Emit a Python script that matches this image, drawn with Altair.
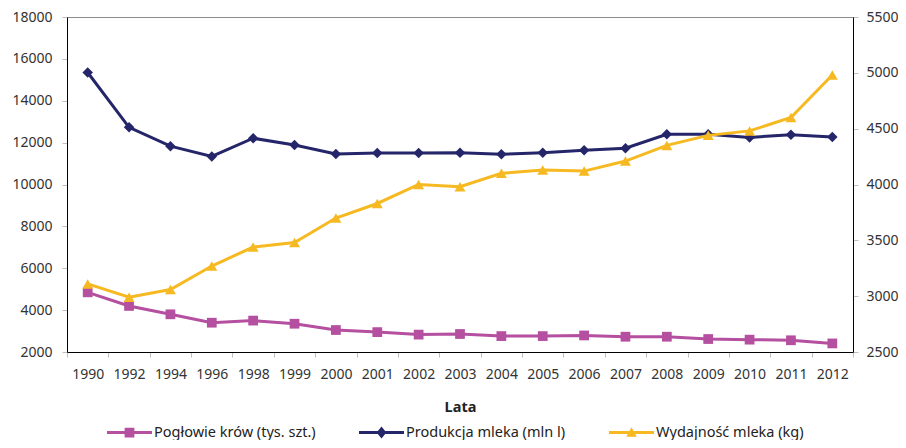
import altair as alt
import pandas as pd

years = ['1990', '1992', '1994', '1996', '1998', '1999', '2000', '2001', '2002', '2003',
         '2004', '2005', '2006', '2007', '2008', '2009', '2010', '2011', '2012']
poglowie = [4850, 4200, 3800, 3400, 3500, 3350, 3050, 2950, 2830, 2860,
            2760, 2760, 2790, 2730, 2730, 2620, 2590, 2560, 2410]
produkcja = [15350, 12730, 11830, 11340, 12210, 11890, 11460, 11510, 11500, 11520,
             11440, 11520, 11640, 11730, 12400, 12400, 12250, 12380, 12270]
wydajnosc = [3110, 2990, 3060, 3270, 3440, 3480, 3700, 3830, 4000, 3980,
             4100, 4130, 4120, 4210, 4350, 4440, 4480, 4600, 4980]

s1 = 'Pogłowie krów (tys. szt.)'
s2 = 'Produkcja mleka (mln l)'
s3 = 'Wydajność mleka (kg)'
series = [s1, s2, s3]
colors = ['#B54FA0', '#25256A', '#F6B921']
point_shapes = ['square', 'diamond', 'triangle-up']
point_sizes = [95, 110, 120]

# legend symbols: line + marker (unit coordinates)
line_path = 'M-3,-0.2L3,-0.2L3,0.2L-3,0.2Z'
legend_paths = [
    line_path + 'M-0.65,-0.65L0.65,-0.65L0.65,0.65L-0.65,0.65Z',
    line_path + 'M0,-0.8L0.65,0L0,0.8L-0.65,0Z',
    line_path + 'M0,-0.7L0.7,0.55L-0.7,0.55Z',
]

rows = []
for name, vals in zip(series, [poglowie, produkcja, wydajnosc]):
    for yr, v in zip(years, vals):
        rows.append({'rok': yr, 'seria': name, 'wartosc': v})
df = pd.DataFrame(rows)

FONT = 'Noto Sans'
FS = 14.5

x_enc = alt.X(
    'rok:O', bandPosition=0.5,
    scale=alt.Scale(type='band', domain=years, paddingInner=0, paddingOuter=0),
    axis=alt.Axis(title='Lata', labelAngle=0, tickBand='extent', labelPadding=10,
                  titlePadding=19, titleFontWeight='bold'),
)

y_left = alt.Y('wartosc:Q',
               scale=alt.Scale(domain=[2000, 18000], nice=False, zero=False),
               axis=alt.Axis(orient='left', values=list(range(2000, 18001, 2000)), title=None,
                             grid=False, format='d', labelPadding=10))
y_right = alt.Y('wartosc:Q',
                scale=alt.Scale(domain=[2500, 5500], nice=False, zero=False),
                axis=alt.Axis(orient='right', values=list(range(2500, 5501, 500)), title=None,
                              grid=False, format='d', labelPadding=8))

base = alt.Chart(df)

left_layers = []
for i, name in enumerate(series[:2]):
    sub = base.transform_filter(alt.datum.seria == name)
    left_layers.append(sub.mark_line(strokeWidth=3, color=colors[i]).encode(x=x_enc, y=y_left))
    left_layers.append(sub.mark_point(shape=point_shapes[i], filled=True, size=point_sizes[i],
                                      opacity=1, color=colors[i])
                       .encode(x=x_enc, y=y_left))

leg = alt.Legend(orient='none', legendX=55, legendY=408, direction='horizontal', columns=3,
                 title=None, padding=0, symbolSize=225, symbolOpacity=1, symbolStrokeWidth=0,
                 labelOffset=17, columnPadding=43, labelFont=FONT, labelFontSize=FS,
                 labelColor='#222222', labelLimit=400)
# legend-only layer (no marks drawn: the filter keeps no rows; the legend comes from the scales)
legend_layer = base.transform_filter(alt.datum.wartosc < 0).mark_point(filled=True).encode(
    x=x_enc, y=y_left,
    color=alt.Color('seria:N', scale=alt.Scale(domain=series, range=colors), legend=leg),
    shape=alt.Shape('seria:N', scale=alt.Scale(domain=series, range=legend_paths), legend=leg),
)
left_layers.append(legend_layer)

left = alt.layer(*left_layers)

sub3 = base.transform_filter(alt.datum.seria == s3)
right = alt.layer(
    sub3.mark_line(strokeWidth=3, color=colors[2]).encode(x=x_enc, y=y_right),
    sub3.mark_point(shape=point_shapes[2], filled=True, size=point_sizes[2], opacity=1,
                    color=colors[2]).encode(x=x_enc, y=y_right),
)

chart = alt.layer(left, right).resolve_scale(y='independent').properties(
    width=786, height=335,
    autosize=alt.AutoSizeParams(type='none'),
    padding={'left': 59, 'top': 9, 'right': 45, 'bottom': 88},
).configure_view(
    stroke='#8C8C8C', strokeWidth=1
).configure_axis(
    labelFont=FONT, labelFontSize=14, labelColor='#333333',
    titleFont=FONT, titleFontSize=FS, titleColor='#222222',
    tickColor='#BFBFBF', tickSize=5, domainColor='#000000', domainWidth=1,
)

chart.save("out.html", embed_options={"renderer": "svg", "actions": False})
